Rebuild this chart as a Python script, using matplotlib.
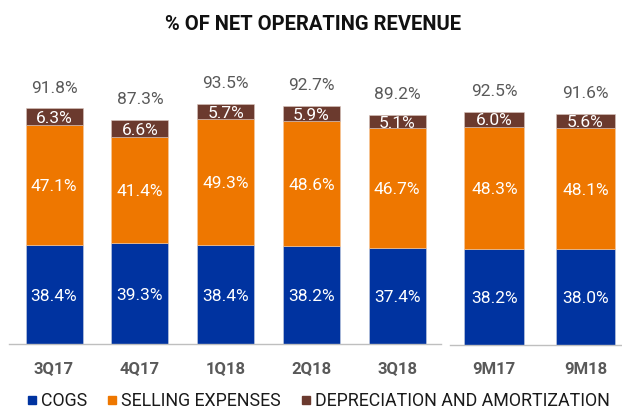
import numpy as np
import matplotlib
matplotlib.use('Agg')
from matplotlib import pyplot as plt
from matplotlib.lines import Line2D

plt.rcParams['font.family'] = ['Roboto', 'DejaVu Sans']

## 데이터
quarters = ['3Q17', '4Q17', '1Q18', '2Q18', '3Q18']
cogs_q = [38.4, 39.3, 38.4, 38.2, 37.4]
selling_q = [47.1, 41.4, 49.3, 48.6, 46.7]
dep_q = [6.3, 6.6, 5.7, 5.9, 5.1]
total_q = [91.8, 87.3, 93.5, 92.7, 89.2]

periods = ['9M17', '9M18']
cogs_p = [38.2, 38.0]
selling_p = [48.3, 48.1]
dep_p = [6.0, 5.6]
total_p = [92.5, 91.6]

series_names = ['COGS', 'SELLING EXPENSES', 'DEPRECIATION AND AMORTIZATION']
colors = ['#0033A0', '#EE7700', '#6B3A2E']
label_gray = '#595959'

fig = plt.figure(figsize=(6.22, 4.09), dpi=100)
ax1 = fig.add_axes([0.0145, 0.1589, 0.6945, 0.6944])
ax2 = fig.add_axes([0.7235, 0.1565, 0.2765, 0.6968])


def draw(ax, cats, cogs, selling, dep, total, width, ymax, xlim):
    x = np.arange(len(cats))
    cogs = np.array(cogs)
    selling = np.array(selling)
    dep = np.array(dep)
    b1 = ax.bar(x, cogs, width, color=colors[0], edgecolor='#c8d0e0', linewidth=0.4)
    b2 = ax.bar(x, selling, width, bottom=cogs, color=colors[1], edgecolor='#f5c9a0', linewidth=0.4)
    b3 = ax.bar(x, dep, width, bottom=cogs + selling, color=colors[2], edgecolor='#d9c4bd', linewidth=0.4)
    for bars, vals in [(b1, cogs), (b2, selling), (b3, dep)]:
        for rect, v in zip(bars, vals):
            ax.text(rect.get_x() + rect.get_width() / 2, rect.get_y() + rect.get_height() / 2,
                    '{:.1f}%'.format(v), ha='center', va='center_baseline',
                    color='white', fontsize=12.5)
    for xi, t in zip(x, total):
        ax.annotate('{:.1f}%'.format(t), (xi, t), xytext=(0, 11.5), textcoords='offset points',
                    ha='center', va='baseline', color=label_gray, fontsize=12.5)
    ax.set_xticks(x)
    ax.set_xticklabels(cats, fontsize=12, fontweight='bold', color=label_gray)
    ax.tick_params(axis='x', length=0, pad=12)
    ax.set_yticks([])
    ax.set_ylim(0, ymax)
    ax.set_xlim(*xlim)
    for s in ['top', 'right', 'left']:
        ax.spines[s].set_visible(False)
    ax.spines['bottom'].set_color('#bfbfbf')
    ax.spines['bottom'].set_linewidth(1.0)


draw(ax1, quarters, cogs_q, selling_q, dep_q, total_q, 0.665, 110.7, (-0.525, 4.51))
draw(ax2, periods, cogs_p, selling_p, dep_p, total_p, 0.656, 113.1, (-0.486, 1.40))

fig.text(0.503, 1 - 24 / 409, '% OF NET OPERATING REVENUE', ha='center', va='center',
         fontsize=14.5, fontweight='bold', color='#111111')

handles = [Line2D([], [], marker='s', linestyle='', markersize=5.5, color=c) for c in colors]
fig.legend(handles, series_names, loc='center', bbox_to_anchor=(0.51, 1 - 401 / 409), ncol=3,
           frameon=False, fontsize=12.8, handletextpad=0.1, columnspacing=1.0,
           handlelength=0.8, borderaxespad=0, labelcolor='#1a1a1a')

fig.savefig('out.png', dpi=100)
